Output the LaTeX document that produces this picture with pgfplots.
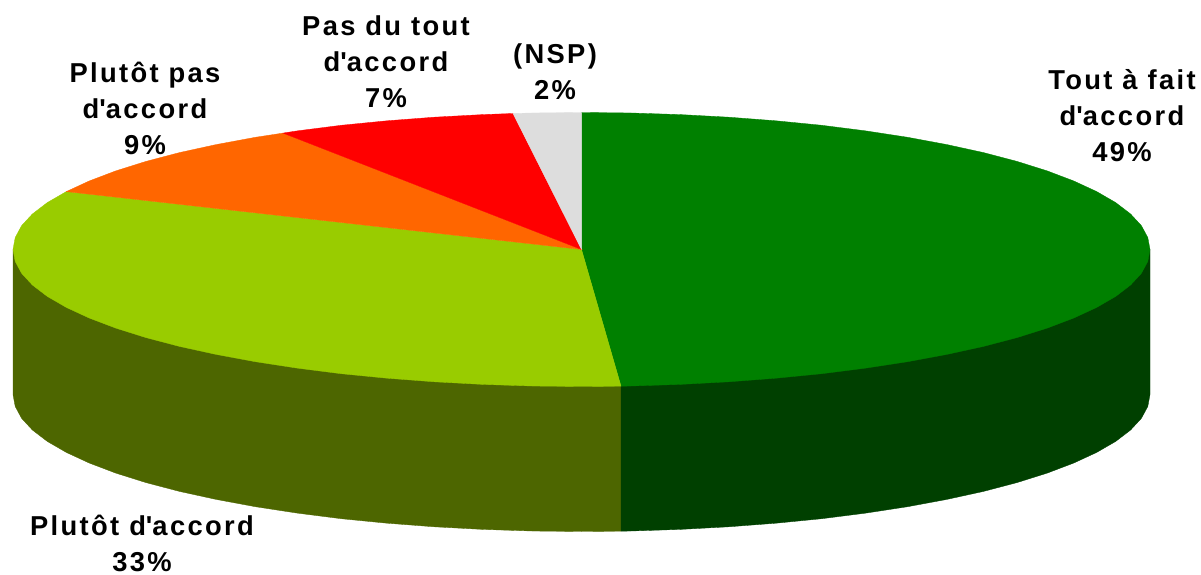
\documentclass[border=0pt]{standalone}
\usepackage{pgfplots}
\pgfplotsset{compat=1.18}
\usepackage{fontspec}
\setmainfont{Liberation Sans}[LetterSpace=8.6]
\definecolor{vert}{HTML}{008000}
\definecolor{vertsombre}{HTML}{004000}
\definecolor{clair}{HTML}{99CC00}
\definecolor{olive}{HTML}{4D6600}
\definecolor{orange}{HTML}{FF6600}
\definecolor{rouge}{HTML}{FF0000}
\definecolor{gris}{HTML}{DDDDDD}
\newcommand{\ap}{\textquotesingle}
\tikzset{lab/.style={font=\fontsize{16.4}{21.6}\selectfont\bfseries, align=center, anchor=south, inner sep=0pt}}
\begin{document}
\begin{tikzpicture}
\begin{axis}[
  scale only axis, width=720.6pt, height=345pt,
  xmin=0, xmax=1201, ymin=-0.5, ymax=574.5, y dir=reverse,
  hide axis, clip=false,
]
\path (axis cs:0,-0.5) rectangle (axis cs:1201,574.5);
% side wall
\addplot[fill=olive, draw=olive, line width=0.2pt] coordinates {
 (13,249) (13,394) (15.2,405.9) (21.6,417.8) (32.4,429.5) (47.3,440.9) (66.3,451.9) (89.2,462.5)
 (115.8,472.6) (146,482.1) (179.5,490.9) (216.1,498.9) (255.4,506.2) (297.2,512.6) (341.2,518.2)
 (387.1,522.7) (434.4,526.3) (482.8,528.9) (531.9,530.5) (581.5,531) (621,530.7) (621,385.7)
} --cycle;
\addplot[fill=vertsombre, draw=vertsombre, line width=0.2pt] coordinates {
 (621,385.7) (621,530.7) (631.1,530.5) (680.2,528.9) (728.6,526.3) (775.9,522.7) (821.8,518.2)
 (865.8,512.6) (907.6,506.2) (946.9,498.9) (983.5,490.9) (1017,482.1) (1047.2,472.6) (1073.8,462.5)
 (1096.7,451.9) (1115.7,440.9) (1130.6,429.5) (1141.4,417.8) (1147.8,405.9) (1150,394) (1150,249)
} --cycle;
% top: Tout a fait d'accord
\addplot[fill=vert, draw=vert, line width=0.2pt] coordinates {
 (581.5,249) (581.5,112) (631.1,112.5) (680.2,114.1) (728.6,116.7) (775.9,120.3) (821.8,124.8)
 (865.8,130.4) (907.6,136.8) (946.9,144.1) (983.5,152.1) (1017,160.9) (1047.2,170.4) (1073.8,180.5)
 (1096.7,191.1) (1115.7,202.1) (1130.6,213.5) (1141.4,225.2) (1147.8,237.1) (1150,249)
 (1147.8,260.9) (1141.4,272.8) (1130.6,284.5) (1115.7,295.9) (1096.7,306.9) (1073.8,317.5)
 (1047.2,327.6) (1017,337.1) (983.5,345.9) (946.9,353.9) (907.6,361.2) (865.8,367.6) (821.8,373.2)
 (775.9,377.7) (728.6,381.3) (680.2,383.9) (631.1,385.5) (621,385.7)
} --cycle;
% Plutot d'accord
\addplot[fill=clair, draw=clair, line width=0.2pt] coordinates {
 (581.5,249) (621,385.7) (581.5,386) (531.9,385.5) (482.8,383.9) (434.4,381.3) (387.1,377.7)
 (341.2,373.2) (297.2,367.6) (255.4,361.2) (216.1,353.9) (179.5,345.9) (146,337.1) (115.8,327.6)
 (89.2,317.5) (66.3,306.9) (47.3,295.9) (32.4,284.5) (21.6,272.8) (15.2,260.9) (13,249)
 (15.2,237.1) (21.6,225.2) (32.4,213.5) (47.3,202.1) (66.3,191.1)
} --cycle;
% Plutot pas d'accord
\addplot[fill=orange, draw=orange, line width=0.2pt] coordinates {
 (581.5,249) (66.3,191.1) (89.2,180.5) (115.8,170.4) (146,160.9) (179.5,152.1) (216.1,144.1)
 (255.4,136.8) (283,132.6)
} --cycle;
% Pas du tout d'accord
\addplot[fill=rouge, draw=rouge, line width=0.2pt] coordinates {
 (581.5,249) (283,132.6) (297.2,130.4) (341.2,124.8) (387.1,120.3) (434.4,116.7) (482.8,114.1) (513,113)
} --cycle;
% NSP
\addplot[fill=gris, draw=gris, line width=0.2pt] coordinates {
 (581.5,249) (513,113) (531.9,112.5) (581.5,112)
} --cycle;
\node[lab] at (axis cs:1122,161.5) {Tout à fait\\d\ap accord\\49\%};
\node[lab] at (axis cs:142,572) {Plutôt d\ap accord\\33\%};
\node[lab] at (axis cs:145,155) {Plutôt pas\\d\ap accord\\9\%};
\node[lab] at (axis cs:386,107.5) {Pas du tout\\d\ap accord\\7\%};
\node[lab] at (axis cs:555,100) {(NSP)\\2\%};
\end{axis}
\end{tikzpicture}
\end{document}
